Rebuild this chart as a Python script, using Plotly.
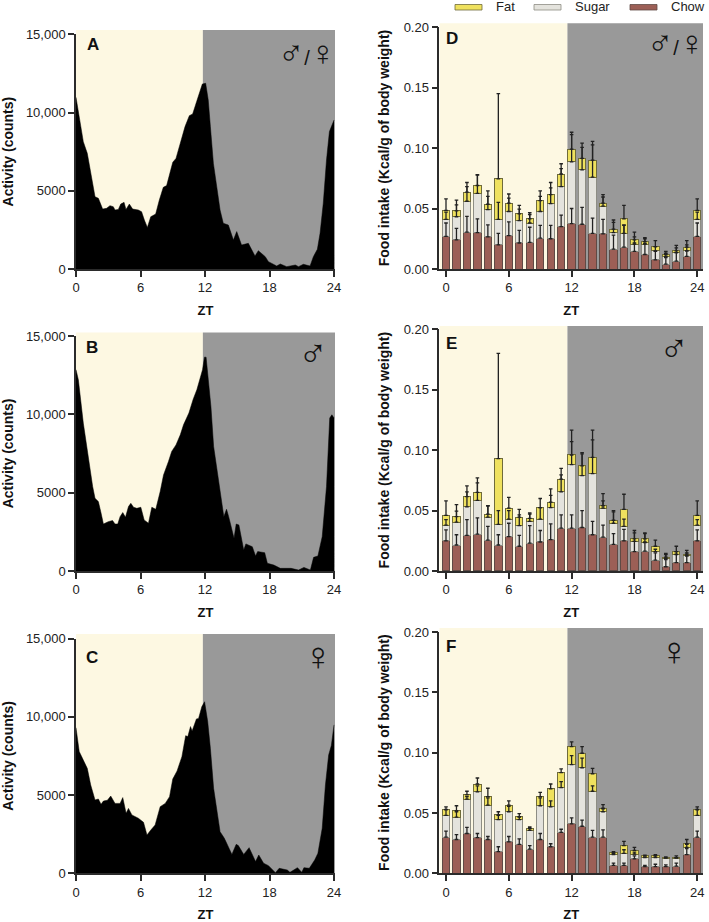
import plotly.graph_objects as go

W, H = 709, 922
hours_axis = [0, 6, 12, 18, 24]

# ---- Activity (counts): vertices ----
a_h = [0,0.37,0.68,1.05,1.46,1.77,2.08,2.48,2.85,3.16,3.47,3.63,3.94,4.16,4.47,4.65,4.96,5.27,5.8,6.1,6.36,6.64,6.95,7.41,7.75,8.12,8.43,9,9.3,9.67,10.14,10.54,10.85,11.22,11.53,11.75,12.06,12.3,12.5,12.78,13.09,13.4,13.7,14.17,14.64,14.95,15.4,16.03,16.65,16.96,17.6,17.9,18.67,19,19.6,20.4,20.7,21.15,21.77,22.08,22.45,22.7,23,23.3,23.57,24]
a_v = [10970,9310,8140,7390,5690,4620,4520,3830,3880,4050,3980,3770,3810,4150,4260,3810,4150,3830,3770,3660,3130,2660,3340,3510,4410,5220,5330,6820,7070,8030,9100,9800,9910,10700,11330,11820,11870,10800,9100,6750,5260,3770,2920,2810,1850,2390,1530,1640,830,1170,790,470,190,320,150,255,150,300,190,790,1260,2280,4200,6970,8780,9520]

b_h = [0,0.22,0.68,1.15,1.55,1.77,2.08,2.3,2.55,3.0,3.4,3.63,3.88,4.1,4.35,4.6,4.88,5.1,5.35,5.66,6.03,6.34,6.74,7.05,7.42,7.83,8.14,8.6,8.9,9.3,9.7,10,10.5,10.9,11.24,11.77,11.95,12.1,12.35,12.55,12.8,13.1,13.6,13.75,14,14.2,14.7,14.9,15.15,15.6,15.8,16.4,16.7,16.9,17.55,17.8,18.4,19,20,20.7,21.2,21.8,22.1,22.5,22.9,23.3,23.6,23.8,24]
b_v = [12850,12200,9440,7100,5390,4640,4430,3790,3000,3150,3220,3000,3000,3470,3730,3430,4110,4320,4070,4000,4070,3260,3050,4070,3940,5070,6130,6990,7630,8050,8690,9330,10080,10970,11570,12850,13650,13650,12000,10500,7950,6450,4220,3470,3940,3470,2090,3000,2940,1340,1730,1550,960,1240,1170,490,380,170,170,60,230,60,870,960,2190,5390,9760,9970,9760]

c_h = [0,0.3,0.68,1.05,1.37,1.77,2.08,2.33,2.55,2.92,3.23,3.63,4.1,4.35,4.66,4.88,5.2,5.35,5.8,6.28,6.6,6.96,7.36,7.83,8.3,8.7,9,9.4,9.85,10.2,10.4,10.65,10.8,11.2,11.4,11.7,11.96,12.25,12.5,12.8,13.1,13.4,13.8,14.2,14.5,14.9,15.1,15.6,16.1,16.7,17,17.45,17.9,18.55,18.9,19.65,19.9,20.6,21,21.2,21.7,22.2,22.5,22.9,23.2,23.5,23.75,24]
c_v = [9310,7780,7240,6710,5640,4690,4750,4410,4620,4670,4940,4470,4470,4840,3840,4150,3730,3690,3520,3260,2450,2770,3090,4260,4470,4900,6030,6540,7460,8800,8740,9380,9100,9870,9900,10650,10970,9700,7990,5430,3940,2660,2240,1700,1210,1850,1770,1210,1640,750,1170,640,490,40,320,210,60,360,60,360,320,850,1280,2880,5650,7570,8170,9490]

# ---- Food intake: stack tops and upper error-bar ends per hour ZT 0..24 ----
zt = list(range(25))

d_chow = [.027,.024,.0305,.030,.0265,.020,.0275,.0215,.022,.0255,.025,.035,.0375,.037,.0295,.029,.0165,.018,.0145,.012,.0075,.004,.0065,.0105,.027]
d_sugar = [.041,.0432,.056,.0625,.049,.041,.0475,.040,.038,.0475,.054,.068,.0885,.082,.076,.052,.030,.0295,.0205,.0205,.015,.0105,.0135,.015,.041]
d_fat = [.0485,.048,.0635,.069,.0535,.0745,.0545,.0455,.0415,.0565,.0615,.0785,.099,.0915,.090,.0545,.033,.0415,.024,.0225,.0185,.012,.015,.018,.0485]
d_chow_err = [.038,.0335,.0435,.0415,.0365,.0295,.039,.032,.0345,.036,.036,.0445,.050,.051,.042,.041,.028,.036,.0215,.021,.0145,.0095,.0135,.015,.038]
d_sugar_err = [.047,.053,.068,.0775,.060,.055,.0585,.0495,.045,.060,.067,.083,.111,.1005,.1025,.0595,.0385,.0365,.0265,.025,.0185,.013,.0175,.020,.047]
d_fat_err = [.058,.057,.0715,.078,.0645,.145,.062,.0525,.0465,.0645,.0715,.087,.113,.104,.1055,.0615,.0405,.0525,.0305,.026,.0235,.0145,.0195,.0235,.058]

e_chow = [.025,.0215,.0295,.0305,.0255,.0215,.0285,.0205,.023,.024,.026,.0355,.0355,.036,.030,.028,.022,.025,.016,.0165,.009,.0035,.007,.007,.025]
e_sugar = [.038,.0405,.053,.0585,.0445,.0385,.043,.0375,.041,.043,.0525,.0655,.088,.079,.0805,.052,.0395,.037,.0245,.0235,.016,.0105,.014,.0125,.038]
e_fat = [.046,.045,.0615,.065,.047,.093,.052,.0445,.0435,.0525,.057,.076,.096,.087,.094,.054,.042,.051,.0265,.0265,.0205,.0115,.016,.014,.046]
e_chow_err = [.034,.030,.0425,.044,.037,.030,.0395,.0295,.0375,.0335,.039,.0465,.0465,.050,.041,.038,.031,.0345,.0245,.024,.015,.0095,.0135,.0125,.034]
e_sugar_err = [.0425,.0495,.0655,.073,.054,.050,.050,.0465,.047,.0525,.0625,.0795,.107,.097,.1085,.058,.049,.043,.0315,.031,.018,.0135,.016,.015,.0425]
e_fat_err = [.058,.055,.0705,.077,.054,.180,.061,.051,.048,.060,.068,.085,.1165,.098,.1165,.064,.050,.0635,.0335,.0315,.0255,.0145,.0205,.017,.058]

f_chow = [.030,.028,.033,.0295,.028,.018,.026,.024,.020,.028,.022,.034,.041,.039,.030,.030,.0065,.0065,.012,.0055,.0055,.0055,.006,.0155,.030]
f_sugar = [.048,.0465,.0615,.0675,.0565,.0445,.051,.0445,.0355,.056,.055,.071,.090,.0875,.068,.051,.0155,.0165,.016,.013,.013,.0125,.0125,.0215,.048]
f_fat = [.053,.052,.065,.074,.0635,.0485,.0565,.047,.0375,.0635,.070,.0835,.105,.0995,.0825,.054,.017,.023,.019,.0145,.0145,.013,.013,.0245,.053]
f_chow_err = [.035,.032,.038,.033,.0305,.022,.0305,.0285,.023,.033,.0245,.0365,.046,.044,.0355,.036,.0085,.0085,.0145,.0065,.0075,.007,.0085,.0205,.035]
f_sugar_err = [.0525,.051,.0635,.0725,.0625,.048,.0555,.0465,.037,.0625,.060,.076,.0975,.0955,.0725,.0535,.0165,.0195,.0175,.0135,.0145,.0125,.013,.024,.0525]
f_fat_err = [.055,.056,.068,.079,.0705,.051,.060,.0495,.0385,.067,.074,.0865,.109,.105,.087,.057,.018,.0265,.0215,.015,.0155,.0135,.0145,.028,.055]

series_names = ["Chow", "Sugar", "Fat"]
FILL = {"Chow": "#9C5F56", "Sugar": "#E4E3DD", "Fat": "#EFE15E"}
EDGE = {"Chow": "#5F4A45", "Sugar": "#8D8D84", "Fat": "#6F6B3A"}
LIGHT, DARK = "#FDF8E2", "#999999"
INK = "#2B2B2B"
FONT = "Liberation Sans"
SZ, SZ_PAIR, SL = 40, 35, 20
MALE = f'<span style="font-size:{SZ}px">♂</span>'
FEMALE = f'<span style="font-size:{SZ}px">♀</span>'
BOTH = f'<span style="font-size:{SZ_PAIR}px">♂</span><span style="font-size:{SL}px">/</span><span style="font-size:{SZ_PAIR}px">♀</span>'

fig = go.Figure()
shapes, notes = [], []


def px(x):
    return x / W


def py(y):
    return 1 - y / H


def axis_common():
    return dict(
        showgrid=False, zeroline=False, showline=True, linecolor=INK, linewidth=1.5,
        ticks="outside", ticklen=6, tickwidth=1.5, tickcolor=INK, automargin=False,
        tickfont=dict(family=FONT, size=13, color="#222222"),
    )


def panel(idx, left, right, top, zero, shade_top, xrange_, split, yrange, ytickvals, yticktext, ytitle, ystand, xstand):
    xn = "x" if idx == 1 else f"x{idx}"
    yn = "y" if idx == 1 else f"y{idx}"
    ln = "xaxis" if idx == 1 else f"xaxis{idx}"
    lyn = "yaxis" if idx == 1 else f"yaxis{idx}"
    fig.layout[ln] = dict(
        domain=[px(left), px(right)], range=xrange_, anchor=yn, tickvals=hours_axis,
        title=dict(text="<b>ZT</b>", font=dict(family=FONT, size=13, color="#111111"), standoff=xstand),
        **axis_common(),
    )
    fig.layout[lyn] = dict(
        domain=[py(zero), py(top)], range=yrange, anchor=xn, tickvals=ytickvals, ticktext=yticktext,
        title=dict(text=f"<b>{ytitle}</b>", font=dict(family=FONT, size=14, color="#111111"), standoff=ystand),
        **axis_common(),
    )
    shapes.append(dict(type="rect", xref=xn, yref="paper", x0=xrange_[0], x1=split, y0=py(zero), y1=py(shade_top),
                       fillcolor=LIGHT, line_width=0, layer="below"))
    shapes.append(dict(type="rect", xref=xn, yref="paper", x0=split, x1=xrange_[1], y0=py(zero), y1=py(shade_top),
                       fillcolor=DARK, line_width=0, layer="below"))
    return xn, yn


def note(text, x, y, size, family=FONT, color="#111111"):
    notes.append(dict(text=text, xref="paper", yref="paper", x=px(x), y=py(y), showarrow=False,
                      xanchor="center", yanchor="middle", font=dict(family=family, size=size, color=color)))


def activity(idx, hours, values, left_top, zero, shade_top, letter, mark, mark_xy, letter_xy):
    xn, yn = panel(idx, 76, 335, left_top, zero, shade_top, [0, 24.09], 11.8, [0, 15000],
                   [0, 5000, 10000, 15000], ["0", "5000", "10,000", "15,000"], "Activity (counts)", 10, 12)
    fig.add_trace(go.Scatter(x=hours, y=values, mode="lines", fill="tozeroy", fillcolor="#000000",
                             line=dict(color="#000000", width=0.5), showlegend=False, xaxis=xn, yaxis=yn,
                             name="Activity", hoverinfo="skip"))
    note(f"<b>{letter}</b>", letter_xy[0], letter_xy[1], 17)
    note(mark, mark_xy[0], mark_xy[1], SZ)


def food(idx, chow, sugar, fat, chow_err, sugar_err, fat_err, top, zero, shade_top, letter, mark, mark_xy, letter_xy):
    xn, yn = panel(idx, 439.3, 703, top, zero, shade_top, [-0.64, 24.55], 11.6, [0, 0.2],
                   [0, .05, .10, .15, .20], ["0.00", "0.05", "0.10", "0.15", "0.20"],
                   "Food intake (Kcal/g of body weight)", 11, 12)
    tops = {"Chow": chow, "Sugar": sugar, "Fat": fat}
    errs = {"Chow": chow_err, "Sugar": sugar_err, "Fat": fat_err}
    below = [0] * len(zt)
    for s in series_names:
        heights = [t - b for t, b in zip(tops[s], below)]
        fig.add_trace(go.Bar(x=zt, y=heights, name=s, marker=dict(color=FILL[s], line=dict(color=EDGE[s], width=1)),
                             width=0.7, showlegend=False, xaxis=xn, yaxis=yn))
        below = tops[s]
    # error bars sit above all bars, as in the reference
    for s in series_names:
        plus = [max(e - t, 0) for e, t in zip(errs[s], tops[s])]
        fig.add_trace(go.Scatter(x=zt, y=tops[s], mode="markers", marker=dict(size=1, opacity=0), name=f"{s} error",
                                 showlegend=False, xaxis=xn, yaxis=yn, hoverinfo="skip",
                                 error_y=dict(type="data", array=plus, symmetric=False, arrayminus=[0] * len(zt),
                                              color="#222222", thickness=1.3, width=1.8)))
    note(f"<b>{letter}</b>", letter_xy[0], letter_xy[1], 17)
    note(mark, mark_xy[0], mark_xy[1], SZ)


activity(1, a_h, a_v, 34.3, 269, 30, "A", BOTH, (307, 52), (92.7, 44))
activity(2, b_h, b_v, 336, 571, 332.5, "B", MALE, (313, 353), (92, 348))
activity(3, c_h, c_v, 638.7, 873.3, 634, "C", FEMALE, (318, 656), (92, 657))
food(4, d_chow, d_sugar, d_fat, d_chow_err, d_sugar_err, d_fat_err, 27, 269, 23.3, "D", BOTH, (676, 43), (451.7, 38))
food(5, e_chow, e_sugar, e_fat, e_chow_err, e_sugar_err, e_fat_err, 329.3, 571, 326, "E", MALE, (674, 348), (451, 343))
food(6, f_chow, f_sugar, f_fat, f_chow_err, f_sugar_err, f_fat_err, 632, 873.3, 628, "F", FEMALE, (674, 651), (451, 646))

# legend row at the top of the right column
legend_items = [("Fat", 455, 505.7), ("Sugar", 534, 592), ("Chow", 630, 688)]
for name, sx, tx in legend_items:
    shapes.append(dict(type="rect", xref="paper", yref="paper", x0=px(sx), x1=px(sx + 27), y0=py(10), y1=py(4.5),
                       fillcolor=FILL[name], line=dict(color=EDGE[name], width=0.8)))
    note(name, tx, 7, 13, FONT, "#222222")

fig.update_layout(
    width=W, height=H, margin=dict(l=0, r=0, t=0, b=0), autosize=False,
    paper_bgcolor="white", plot_bgcolor="rgba(0,0,0,0)", barmode="stack", bargap=0.3,
    shapes=shapes, annotations=notes, showlegend=False,
    font=dict(family=FONT),
)
fig.write_html("out.html", config={"displayModeBar": False}, post_script="document.body.style.margin='0';")
